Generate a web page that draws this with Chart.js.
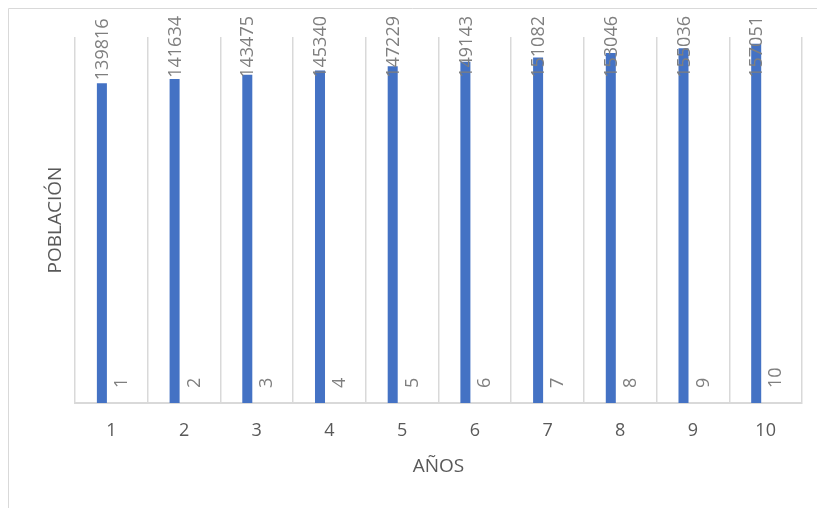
<!DOCTYPE html>
<html>
<head>
<meta charset="utf-8">
<script src="https://cdn.jsdelivr.net/npm/chart.js@4/dist/chart.umd.min.js"></script>
<style>
  html, body { margin: 0; padding: 0; background: #fff; }
  #wrap { position: relative; width: 817px; height: 508px; }
</style>
</head>
<body>
<div id="wrap"><canvas id="grafico"></canvas></div>
<script>
// Datos
const anios = ["1", "2", "3", "4", "5", "6", "7", "8", "9", "10"];
const poblacion = [139816, 141634, 143475, 145340, 147229, 149143, 151082, 153046, 155036, 157051];
const serieAnios = [1, 2, 3, 4, 5, 6, 7, 8, 9, 10];

const FUENTE = "'Open Sans', 'Liberation Sans', sans-serif";
const GRIS_TEXTO = "#595959";
const GRIS_ETIQUETA = "#7f7f7f";
const GRIS_LINEA = "#d9d9d9";

// marco exterior del gráfico
const marco = {
  id: "marco",
  beforeDraw(chart) {
    const ctx = chart.ctx;
    ctx.save();
    ctx.strokeStyle = GRIS_LINEA;
    ctx.lineWidth = 1;
    ctx.beginPath();
    ctx.moveTo(8.5, chart.height);
    ctx.lineTo(8.5, 8.5);
    ctx.lineTo(chart.width, 8.5);
    ctx.stroke();
    ctx.restore();
  }
};

// etiquetas de datos verticales (estilo Excel)
const etiquetas = {
  id: "etiquetas",
  afterDatasetsDraw(chart) {
    const ctx = chart.ctx;
    ctx.save();
    ctx.font = "18px " + FUENTE;
    ctx.fillStyle = GRIS_ETIQUETA;
    ctx.textAlign = "left";
    ctx.textBaseline = "middle";
    chart.data.datasets.forEach((ds, i) => {
      const meta = chart.getDatasetMeta(i);
      const sep = i === 0 ? 3 : 15;
      meta.data.forEach((bar, j) => {
        const txt = String(ds.data[j]);
        const w = ctx.measureText(txt).width;
        let base = bar.y - sep;
        if (base - w < 16) base = 16 + w;
        ctx.save();
        ctx.translate(bar.x + 1, base);
        ctx.rotate(-Math.PI / 2);
        ctx.fillText(txt, 0, 0);
        ctx.restore();
      });
    });
    ctx.restore();
  }
};

new Chart(document.getElementById("grafico"), {
  type: "bar",
  data: {
    labels: anios,
    datasets: [{
      label: "POBLACIÓN",
      data: poblacion,
      backgroundColor: "#4472C4",
      categoryPercentage: 0.52,
      barPercentage: 0.53
    }, {
      label: "AÑOS",
      data: serieAnios,
      backgroundColor: "#ED7D31",
      categoryPercentage: 0.52,
      barPercentage: 0.53
    }]
  },
  options: {
    responsive: true,
    maintainAspectRatio: false,
    animation: false,
    layout: { padding: { top: 37, right: 15, left: 0, bottom: 0 } },
    plugins: {
      legend: { display: false },
      tooltip: { enabled: false }
    },
    scales: {
      x: {
        grid: { color: GRIS_LINEA, lineWidth: 1.5, drawTicks: false, offset: true },
        border: { color: GRIS_LINEA, width: 2 },
        ticks: { color: GRIS_TEXTO, font: { family: FUENTE, size: 18 }, padding: 17 },
        title: {
          display: true,
          text: "AÑOS",
          color: GRIS_TEXTO,
          font: { family: FUENTE, size: 19 },
          padding: { top: 0, bottom: 30 }
        },
        afterFit(s) { s.height = 105; }
      },
      y: {
        min: 0,
        max: 160000,
        grid: { display: false },
        border: { display: false },
        ticks: { display: false },
        title: {
          display: true,
          text: "POBLACIÓN",
          color: GRIS_TEXTO,
          font: { family: FUENTE, size: 19 },
          padding: { top: 44, bottom: 0 }
        },
        afterFit(s) { s.width = 75; }
      }
    }
  },
  plugins: [marco, etiquetas]
});
</script>
</body>
</html>
